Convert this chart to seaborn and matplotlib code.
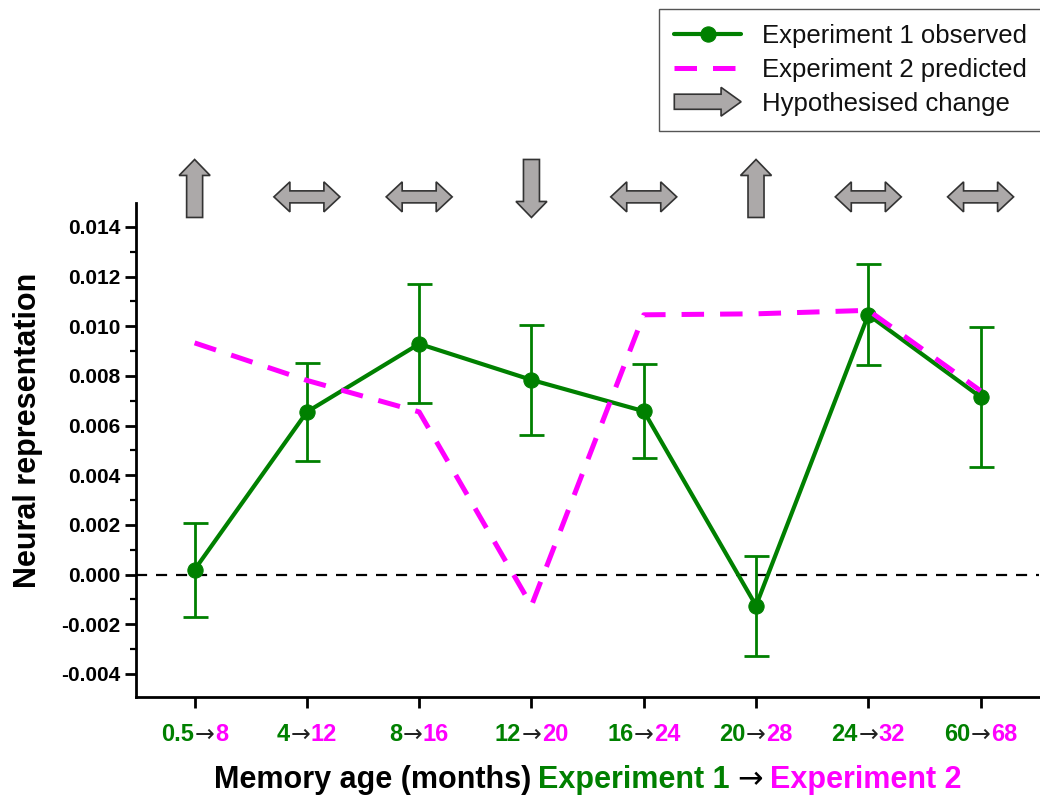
"""
Memory age: Experiment 1 observed neural representation vs
Experiment 2 predicted values, with hypothesised change arrows.
"""

import matplotlib
matplotlib.use("Agg")
import matplotlib.pyplot as plt
import matplotlib.transforms as mtransforms
from matplotlib import font_manager
from matplotlib.patches import Polygon
from matplotlib.legend_handler import HandlerPatch
from matplotlib.ticker import MultipleLocator
import seaborn as sns

# --- Data -----------------------------------------------------------------
exp1_ages = ["0.5", "4", "8", "12", "16", "20", "24", "60"]
exp2_ages = ["8", "12", "16", "20", "24", "28", "32", "68"]
exp1_observed = [0.00020, 0.00655, 0.00929, 0.00784, 0.00658, -0.00125, 0.01046, 0.00715]
exp1_err = [0.00189, 0.00197, 0.00240, 0.00222, 0.00190, 0.00201, 0.00203, 0.00282]
exp2_predicted = [0.00933, 0.00782, 0.00655, -0.00125, 0.01046, 0.01050, 0.01064, 0.00740]
hypothesised = ["up", "both", "both", "down", "both", "up", "both", "both"]

GREEN = "#008000"
MAGENTA = "#ff00ff"
ARROW_FILL = "#aca9a9"
ARROW_EDGE = "#333333"

available = {f.name for f in font_manager.fontManager.ttflist}
NARROW = ["Liberation Sans Narrow", "Liberation Sans", "DejaVu Sans"]
NARROW = [f for f in NARROW if f in available] or ["DejaVu Sans"]

sns.set_style("ticks", {"axes.edgecolor": "black", "text.color": "black",
                        "axes.labelcolor": "black", "xtick.color": "black",
                        "ytick.color": "black"})
plt.rcParams["font.family"] = ["Liberation Sans", "DejaVu Sans"]

fig = plt.figure(figsize=(10.4, 8.0), dpi=100)
ax = fig.add_axes([0.1310, 0.129, 0.868, 0.6175])

xpos = list(range(len(exp1_ages)))

# zero reference line
ax.axhline(0, color="black", lw=1.6, ls=(0, (5, 4)), zorder=1)

n0 = len(ax.get_lines())
sns.lineplot(x=xpos, y=exp1_observed, color=GREEN, lw=3.0, marker="o",
             markersize=11, markeredgecolor=GREEN, ax=ax, zorder=3,
             label="Experiment 1 observed")
green_line = ax.get_lines()[n0]
ax.errorbar(xpos, exp1_observed, yerr=exp1_err, fmt="none", ecolor=GREEN,
            elinewidth=2.0, capsize=9, capthick=2.0, zorder=3)
n1 = len(ax.get_lines())
sns.lineplot(x=xpos, y=exp2_predicted, color=MAGENTA, lw=3.6, ax=ax,
             zorder=4, label="Experiment 2 predicted")
magenta_line = ax.get_lines()[n1]
magenta_line.set_linestyle((0, (4.5, 3.2)))
ax.legend_.remove()

ax.set_xlim(-0.52, 7.52)
ax.set_ylim(-0.00492, 0.01497)
ax.yaxis.set_major_locator(MultipleLocator(0.002))
ax.yaxis.set_minor_locator(MultipleLocator(0.001))
ax.yaxis.set_major_formatter(plt.FuncFormatter(lambda v, p: f"{v:.3f}"))
ax.set_xticks(xpos)
ax.set_xticklabels([""] * len(xpos))

for side in ["top", "right"]:
    ax.spines[side].set_visible(False)
for side in ["left", "bottom"]:
    ax.spines[side].set_linewidth(2.0)
ax.tick_params(axis="both", which="major", direction="out", length=8,
               width=2.0, labelsize=15, colors="black")
ax.tick_params(axis="y", which="minor", direction="out", length=4.5,
               width=1.6, colors="black")
for lbl in ax.get_yticklabels():
    lbl.set_fontweight("bold")

ax.set_ylabel("Neural representation", fontsize=22, fontweight="bold",
              color="black")
ax.yaxis.set_label_coords(-0.103, 0.54)

# --- Multi-colour text (tick labels, x label) ------------------------------
renderer = fig.canvas.get_renderer()
blend = mtransforms.blended_transform_factory(ax.transData, ax.transAxes)


def multicolor_text(x, y, parts, trans, gap=0.0, **kw):
    texts = []
    for s, c, extra in parts:
        props = dict(kw)
        props.update(extra)
        texts.append(ax.text(x, y, s, color=c, transform=trans, ha="left",
                             va="center", clip_on=False, **props))
    widths = [t.get_window_extent(renderer).width for t in texts]
    total = sum(widths) + gap * (len(texts) - 1)
    off = -total / 2
    for t, w in zip(texts, widths):
        t.set_transform(trans + mtransforms.Affine2D().translate(off, 0))
        off += w + gap


ARROW_PROPS = {"family": ["DejaVu Sans"], "fontweight": "normal"}

for i, (a1, a2) in enumerate(zip(exp1_ages, exp2_ages)):
    multicolor_text(i, -0.077,
                    [(a1, GREEN, {}), ("\u2192", "#222222", ARROW_PROPS),
                     (a2, MAGENTA, {})],
                    blend, gap=0.5, family=NARROW, fontsize=17,
                    fontweight="bold")

multicolor_text(0.5, -0.168,
                [("Memory age (months)", "black", {}),
                 ("Experiment 1", GREEN, {}),
                 ("\u2192", "black", ARROW_PROPS),
                 ("Experiment 2", MAGENTA, {})],
                ax.transAxes, gap=7, family=NARROW, fontsize=22,
                fontweight="bold")


# --- Hypothesised change arrows -----------------------------------------
def arrow_verts(kind):
    if kind == "both":
        h, hl, hw, sw = 33, 16, 15, 6
        return [(-h, 0), (-h + hl, hw), (-h + hl, sw), (h - hl, sw),
                (h - hl, hw), (h, 0), (h - hl, -hw), (h - hl, -sw),
                (-h + hl, -sw), (-h + hl, -hw)]
    h, hl, hw, sw = 29, 16, 15.5, 8
    verts = [(0, h), (hw, h - hl), (sw, h - hl), (sw, -h), (-sw, -h),
             (-sw, h - hl), (-hw, h - hl)]
    if kind == "down":
        verts = [(vx, -vy) for vx, vy in verts]
    return verts


for i, kind in enumerate(hypothesised):
    ypos = 1.012 if kind == "both" else 1.029
    trans = mtransforms.ScaledTranslation(i, ypos, blend)
    poly = Polygon(arrow_verts(kind), closed=True, facecolor=ARROW_FILL,
                   edgecolor=ARROW_EDGE, lw=1.2, transform=trans,
                   clip_on=False, zorder=5)
    ax.add_patch(poly)


# --- Legend ----------------------------------------------------------------
def make_legend_arrow(legend, orig_handle, xdescent, ydescent, width,
                      height, fontsize):
    x0, x1 = -xdescent, -xdescent + width
    yc = -ydescent + height / 2
    hl, hw, sw = 0.3 * width, 0.8 * height, 0.42 * height
    verts = [(x0, yc - sw), (x1 - hl, yc - sw), (x1 - hl, yc - hw),
             (x1, yc), (x1 - hl, yc + hw), (x1 - hl, yc + sw), (x0, yc + sw)]
    return Polygon(verts, closed=True)


arrow_proxy = Polygon([(0, 0), (1, 0), (1, 1)], closed=True,
                      facecolor=ARROW_FILL, edgecolor=ARROW_EDGE, lw=1.2)
leg = fig.legend([green_line, magenta_line, arrow_proxy],
                 ["Experiment 1 observed", "Experiment 2 predicted",
                  "Hypothesised change"],
                 handler_map={Polygon: HandlerPatch(patch_func=make_legend_arrow)},
                 loc="upper right", bbox_to_anchor=(1.002, 0.989),
                 fontsize=18.5, frameon=True, fancybox=False,
                 edgecolor="#555555", framealpha=1, handlelength=2.6,
                 handletextpad=0.8, labelspacing=0.38, borderpad=0.6,
                 borderaxespad=0)
leg.get_frame().set_linewidth(1.0)
for txt in leg.get_texts():
    txt.set_color("#111111")

fig.savefig("out.png", dpi=100)
